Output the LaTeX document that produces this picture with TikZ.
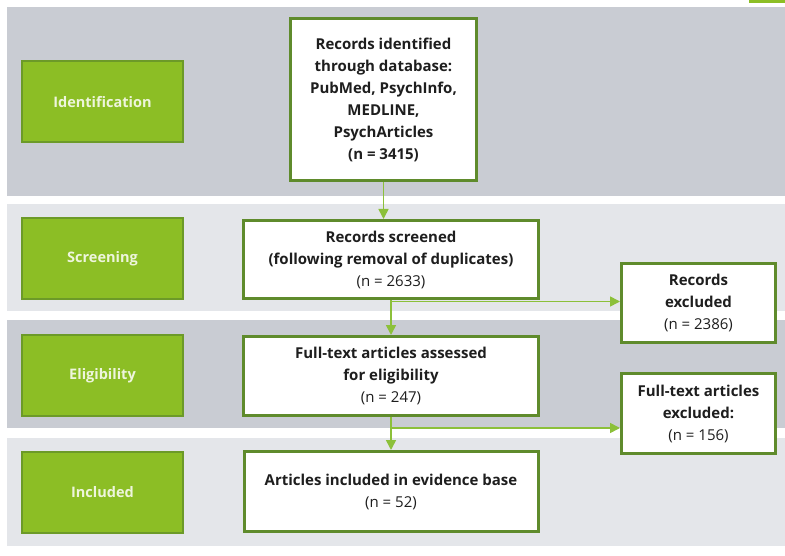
\documentclass[tikz,border=0pt]{standalone}
\usepackage{fontspec}
\setmainfont{Open Sans}
\usetikzlibrary{arrows.meta,calc}

\definecolor{banddark}{HTML}{C9CCD3}
\definecolor{bandlight}{HTML}{E4E6EA}
\definecolor{stagefill}{HTML}{8CBE25}
\definecolor{stageedge}{HTML}{6C9A28}
\definecolor{stagetext}{HTML}{EEF5DC}
\definecolor{boxedge}{HTML}{5F8B2C}
\definecolor{flow}{HTML}{8CC03A}
\definecolor{ink}{HTML}{1E1E1E}

\tikzset{
  stagebox/.style={draw=stageedge, line width=2pt, fill=stagefill,
    minimum width=161pt, minimum height=81pt, inner sep=0pt,
    text=stagetext, font=\fontsize{14.5}{17}\selectfont\bfseries},
  % a tall strut on the first line sets the text block a little low
  recbox/.style={draw=boxedge, line width=3pt, fill=white, inner sep=0pt,
    align=center, text=ink, font=\fontsize{15}{22}\selectfont,
    execute at begin node={\rule{0pt}{18pt}}},
  flowarrow/.style={draw=flow, line width=1.6pt,
    -{Triangle[length=10pt,width=10pt]}},
}

\begin{document}
\begin{tikzpicture}[x=1pt,y=-1pt]
  \useasboundingbox (0,0) rectangle (785,556);
  \fill[white] (0,0) rectangle (785,556);

  % stage bands
  \fill[banddark]  (7,7)   rectangle (785,196);
  \fill[bandlight] (7,204) rectangle (785,311);
  \fill[banddark]  (7,320) rectangle (785,428);
  \fill[bandlight] (7,438) rectangle (785,546);

  % corner strip
  \fill[stagefill] (749,0) rectangle (785,3);

  % stage labels
  \node[stagebox] (sIdent) at (102.5,102)   {Identification};
  \node[stagebox] (sScreen) at (102.5,258.5) {Screening};
  \node[stagebox] (sElig) at (102.5,375.5)  {Eligibility};
  \node[stagebox] (sIncl) at (102.5,492)    {Included};

  % record boxes
  \node[recbox, minimum width=186pt, minimum height=162pt] (ident) at (383.5,99.5)
    {\bfseries Records identified\\ \bfseries through database:\\ \bfseries PubMed, PsychInfo,\\ \bfseries MEDLINE,\\ \bfseries PsychArticles\\ \bfseries (n = 3415)};
  \node[recbox, minimum width=295pt, minimum height=78pt] (screen) at (391,259.5)
    {\bfseries Records screened\\ \bfseries (following removal of duplicates)\\ (n = 2633)};
  \node[recbox, minimum width=295pt, minimum height=79pt] (elig) at (391,376)
    {\bfseries Full-text articles assessed\\ \bfseries for eligibility\\ (n = 247)};
  \node[recbox, minimum width=294pt, minimum height=80pt] (incl) at (391,491.5)
    {\bfseries Articles included in evidence base\\ (n = 52)};
  \node[recbox, minimum width=154pt, minimum height=79pt] (excl1) at (698.5,303)
    {\bfseries Records\\ \bfseries excluded\\ (n = 2386)};
  \node[recbox, minimum width=154pt, minimum height=80pt] (excl2) at (698.5,413.5)
    {\bfseries Full-text articles\\ \bfseries excluded:\\ (n = 156)};

  % flow connectors
  \coordinate (j1) at ($(screen.south)+(0,1.5)$);
  \coordinate (j2) at ($(elig.south)+(0,11)$);
  \draw[flowarrow] (ident.south) -- (ident.south |- screen.north);
  \draw[flowarrow] (screen.south) -- (screen.south |- elig.north);
  \draw[flowarrow] (j1) -- (j1 -| excl1.west);
  \draw[flowarrow] (elig.south) -- (elig.south |- incl.north);
  \draw[flowarrow] (j2) -- (j2 -| excl2.west);
\end{tikzpicture}
\end{document}
